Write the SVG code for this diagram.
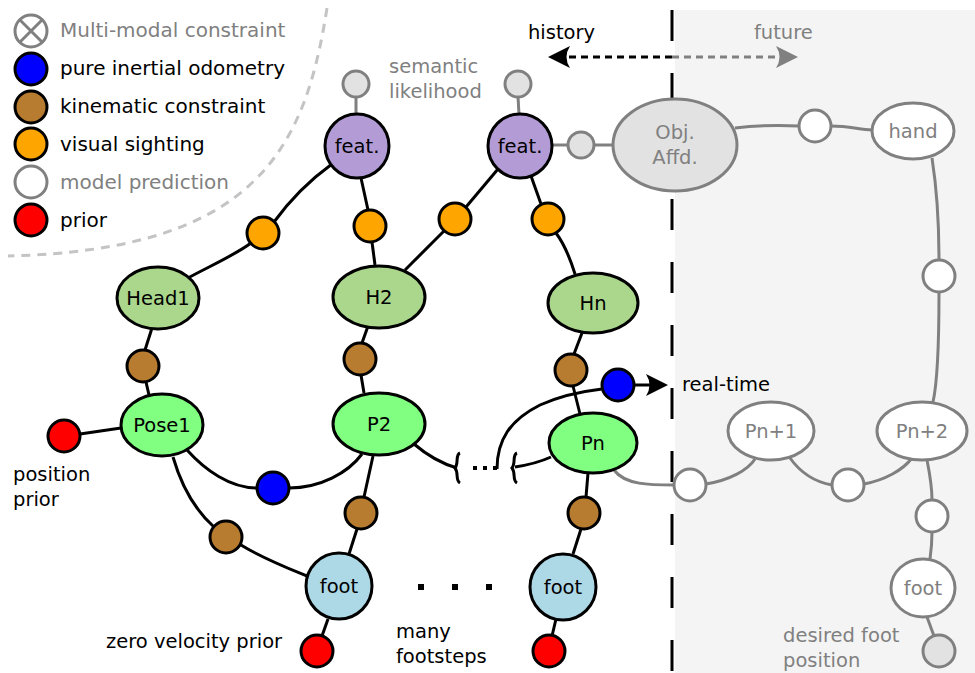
<svg xmlns="http://www.w3.org/2000/svg" width="975" height="673" viewBox="0 0 975 673">
  <defs>
    <style>
      text { font-family: "DejaVu Sans", "Liberation Sans", sans-serif; font-size: 19.5px; fill: #000; }
      .leg { font-size: 20px; }
      .lab { text-anchor: middle; }
      .gt { fill: #808080; }
      .k { fill: none; stroke: #000; stroke-width: 3; }
      .g { fill: none; stroke: #808080; stroke-width: 3; }
      .nb { stroke: #000; stroke-width: 3; }
      .ng { stroke: #808080; stroke-width: 3; }
      .head { fill: #aad78c; }
      .pose { fill: #80ff80; }
      .feat { fill: #b39cd6; }
      .foot { fill: #add8e6; }
      .blue { fill: #0000ff; }
      .brown { fill: #b87c31; }
      .orange { fill: #ffa500; }
      .red { fill: #ff0000; }
      .white { fill: #ffffff; }
      .lgrey { fill: #e2e2e2; }
    </style>
    <marker id="ahK" markerUnits="userSpaceOnUse" markerWidth="28" markerHeight="26" viewBox="-24 -13 28 26" refX="-10" refY="0" orient="auto">
      <path d="M0,0 L-22,-11 Q-15,0 -22,11 Z" fill="#000"/>
    </marker>
    <marker id="ahG" markerUnits="userSpaceOnUse" markerWidth="28" markerHeight="26" viewBox="-24 -13 28 26" refX="-10" refY="0" orient="auto">
      <path d="M0,0 L-22,-11 Q-15,0 -22,11 Z" fill="#808080"/>
    </marker>
  </defs>

  <!-- future region -->
  <rect x="675" y="10" width="300" height="663" fill="#f4f4f4"/>

  <!-- legend boundary -->
  <path d="M327,8 C 305,150 255,250 8,256" fill="none" stroke="#c4c4c4" stroke-width="3" stroke-dasharray="9,7"/>

  <!-- legend -->
  <g id="legend">
    <circle cx="31" cy="31" r="16" class="white ng"/>
    <path d="M20,20 L42,42 M42,20 L20,42" class="g"/>
    <text x="60" y="37" class="leg gt">Multi-modal constraint</text>
    <circle cx="31" cy="69" r="16" class="blue nb"/>
    <text x="60" y="75" class="leg">pure inertial odometry</text>
    <circle cx="31" cy="107" r="16" class="brown nb"/>
    <text x="60" y="113" class="leg">kinematic constraint</text>
    <circle cx="31" cy="144" r="16" class="orange nb"/>
    <text x="60" y="151" class="leg">visual sighting</text>
    <circle cx="31" cy="182" r="16" class="white ng"/>
    <text x="60" y="189" class="leg gt">model prediction</text>
    <circle cx="31" cy="220" r="16" class="red nb"/>
    <text x="60" y="227" class="leg">prior</text>
  </g>

  <!-- now line and time arrows -->
  <g id="timeline">
    <line x1="672" y1="10" x2="672" y2="673" stroke="#000" stroke-width="3" stroke-dasharray="31,32"/>
    <path d="M672,57 L558,57" class="k" stroke-dasharray="7,5" marker-end="url(#ahK)"/>
    <path d="M672,57 L788,57" class="g" stroke-dasharray="7,5" marker-end="url(#ahG)"/>
    <text x="528" y="39">history</text>
    <text x="754" y="39" class="gt">future</text>
  </g>

  <!-- connectors -->
  <g id="connectors">
    <!-- visual sightings -->
    <path d="M188,278 C 210,266 235,255 251,243" class="k"/>
    <path d="M274,222 C 290,200 310,180 332,164" class="k"/>
    <path d="M361,178 L368,210" class="k"/>
    <path d="M372,242 L375,265" class="k"/>
    <path d="M405,270 L444,231" class="k"/>
    <path d="M466,207 L498,169" class="k"/>
    <path d="M531,176 L541,204" class="k"/>
    <path d="M556,233 C 565,245 570,258 575,274" class="k"/>
    <!-- head kinematics -->
    <path d="M152,328 L145,350" class="k"/>
    <path d="M146,382 L149,395" class="k"/>
    <path d="M368,326 L362,343" class="k"/>
    <path d="M361,375 L364,393" class="k"/>
    <path d="M582,333 L574,354" class="k"/>
    <path d="M573,386 L580,414" class="k"/>
    <!-- priors -->
    <path d="M121,428 L80,434" class="k"/>
    <path d="M328,619 L322,636" class="k"/>
    <path d="M556,619 L552,636" class="k"/>
    <!-- odometry -->
    <path d="M187,450 C 205,470 230,488 257,488" class="k"/>
    <path d="M289,488 C 320,488 348,473 362,454" class="k"/>
    <!-- leg kinematics -->
    <path d="M173,457 C 182,488 195,510 214,527" class="k"/>
    <path d="M241,545 C 262,558 285,567 307,576" class="k"/>
    <path d="M373,456 L364,497" class="k"/>
    <path d="M357,529 L349,554" class="k"/>
    <path d="M588,473 L586,497" class="k"/>
    <path d="M581,529 L573,554" class="k"/>
    <!-- elided chain -->
    <path d="M414,444 C 428,456 443,464 457,468" class="k"/>
    <path d="M460,453 C 455,455 459,463 455,468 C 459,473 455,480 460,483" class="k" stroke-width="2"/>
    <rect x="473" y="466" width="4" height="4" fill="#000"/>
    <rect x="483" y="466" width="4" height="4" fill="#000"/>
    <rect x="493" y="466" width="4" height="4" fill="#000"/>
    <path d="M517,453 C 512,455 516,463 512,468 C 516,473 512,480 517,483" class="k" stroke-width="2"/>
    <path d="M515,467 C 528,465 540,462 551,457" class="k"/>
    <path d="M497,469 C 497,440 510,420 540,405 C 560,396 585,391 602,389" class="k"/>
    <path d="M634,385 L658,385" class="k" marker-end="url(#ahK)"/>
    <!-- semantic / object links -->
    <path d="M356,114 L356,97" class="g"/>
    <path d="M519,114 L518,97" class="g"/>
    <path d="M552,145 L568,145" class="g"/>
    <path d="M594,145 L613,145" class="g"/>
    <!-- predicted future -->
    <path d="M735,128 C 760,125 780,125 799,126" class="g"/>
    <path d="M831,126 C 850,126 860,130 872,130" class="g"/>
    <path d="M932,158 C 937,190 939,230 939,260" class="g"/>
    <path d="M939,292 C 939,340 938,380 933,402" class="g"/>
    <path d="M614,470 C 625,485 650,485 674,485" class="g"/>
    <path d="M706,484 C 730,480 748,470 755,459" class="g"/>
    <path d="M790,458 C 800,472 815,482 832,485" class="g"/>
    <path d="M864,484 C 885,480 903,470 912,458" class="g"/>
    <path d="M927,460 C 930,475 932,488 932,500" class="g"/>
    <path d="M932,532 C 932,545 931,552 930,559" class="g"/>
    <path d="M927,617 L934,636" class="g"/>
  </g>

  <!-- factors -->
  <g id="factors">
    <circle id="vis1" cx="263" cy="233" r="16" class="orange nb"/>
    <circle id="vis2" cx="370" cy="226" r="16" class="orange nb"/>
    <circle id="vis3" cx="455" cy="219" r="16" class="orange nb"/>
    <circle id="vis4" cx="548" cy="219" r="16" class="orange nb"/>
    <circle id="kin1" cx="143" cy="366" r="16" class="brown nb"/>
    <circle id="kin2" cx="360" cy="359" r="16" class="brown nb"/>
    <circle id="kin3" cx="571" cy="370" r="16" class="brown nb"/>
    <circle id="kin4" cx="226" cy="537" r="16" class="brown nb"/>
    <circle id="kin5" cx="361" cy="513" r="16" class="brown nb"/>
    <circle id="kin6" cx="584" cy="513" r="16" class="brown nb"/>
    <circle id="odo1" cx="273" cy="488" r="16" class="blue nb"/>
    <circle id="odo2" cx="618" cy="385" r="16" class="blue nb"/>
    <circle id="prior1" cx="64" cy="436" r="16" class="red nb"/>
    <circle id="prior2" cx="317" cy="651" r="16" class="red nb"/>
    <circle id="prior3" cx="549" cy="651" r="16" class="red nb"/>
    <circle id="sem1" cx="356" cy="84" r="13" class="lgrey ng"/>
    <circle id="sem2" cx="518" cy="84" r="13" class="lgrey ng"/>
    <circle id="aff" cx="581" cy="145" r="13" class="lgrey ng"/>
    <circle id="pred1" cx="815" cy="126" r="16" class="white ng"/>
    <circle id="pred2" cx="939" cy="276" r="16" class="white ng"/>
    <circle id="pred3" cx="690" cy="485" r="16" class="white ng"/>
    <circle id="pred4" cx="848" cy="485" r="16" class="white ng"/>
    <circle id="pred5" cx="932" cy="516" r="16" class="white ng"/>
    <circle id="desired" cx="939" cy="651" r="16" class="lgrey ng"/>
  </g>

  <!-- variable nodes -->
  <g id="featL"><circle cx="357" cy="146" r="32" class="feat nb"/><text x="357" y="153" class="lab">feat.</text></g>
  <g id="featR"><circle cx="520" cy="146" r="32" class="feat nb"/><text x="520" y="153" class="lab">feat.</text></g>
  <g id="head1"><ellipse cx="158" cy="298" rx="41" ry="31" class="head nb"/><text x="158" y="305" class="lab">Head1</text></g>
  <g id="h2"><ellipse cx="379" cy="297" rx="46" ry="31" class="head nb"/><text x="379" y="304" class="lab">H2</text></g>
  <g id="hn"><ellipse cx="593" cy="303" rx="45" ry="30" class="head nb"/><text x="593" y="310" class="lab">Hn</text></g>
  <g id="pose1"><ellipse cx="162" cy="425" rx="41" ry="31" class="pose nb"/><text x="162" y="432" class="lab">Pose1</text></g>
  <g id="p2"><ellipse cx="379" cy="424" rx="46" ry="31" class="pose nb"/><text x="379" y="431" class="lab">P2</text></g>
  <g id="pn"><ellipse cx="593" cy="443" rx="44" ry="30" class="pose nb"/><text x="593" y="450" class="lab">Pn</text></g>
  <g id="foot1"><circle cx="339" cy="586" r="33" class="foot nb"/><text x="339" y="593" class="lab">foot</text></g>
  <g id="footN"><circle cx="563" cy="587" r="33" class="foot nb"/><text x="563" y="594" class="lab">foot</text></g>
  <g id="objAffd"><ellipse cx="675" cy="145" rx="62" ry="46" class="lgrey ng"/><text x="675" y="139" class="lab gt">Obj.</text><text x="675" y="164" class="lab gt">Affd.</text></g>
  <g id="hand"><ellipse cx="913" cy="131" rx="41" ry="28" class="white ng"/><text x="913" y="138" class="lab gt">hand</text></g>
  <g id="pn1"><ellipse cx="771" cy="431" rx="43" ry="29" class="white ng"/><text x="771" y="438" class="lab gt">Pn+1</text></g>
  <g id="pn2"><ellipse cx="922" cy="431" rx="45" ry="29" class="white ng"/><text x="922" y="438" class="lab gt">Pn+2</text></g>
  <g id="footF"><ellipse cx="923" cy="588" rx="32" ry="29" class="white ng"/><text x="923" y="595" class="lab gt">foot</text></g>

  <!-- annotations -->
  <g id="notes">
    <text x="389" y="73" class="gt">semantic</text>
    <text x="389" y="98" class="gt">likelihood</text>
    <text x="13" y="481">position</text>
    <text x="13" y="506">prior</text>
    <text x="106" y="648">zero velocity prior</text>
    <text x="396" y="638">many</text>
    <text x="396" y="663">footsteps</text>
    <rect x="418" y="584" width="6" height="6" fill="#000"/>
    <rect x="452" y="584" width="6" height="6" fill="#000"/>
    <rect x="486" y="584" width="6" height="6" fill="#000"/>
    <text x="682" y="391">real-time</text>
    <text x="783" y="642" class="gt">desired foot</text>
    <text x="783" y="667" class="gt">position</text>
  </g>
</svg>
